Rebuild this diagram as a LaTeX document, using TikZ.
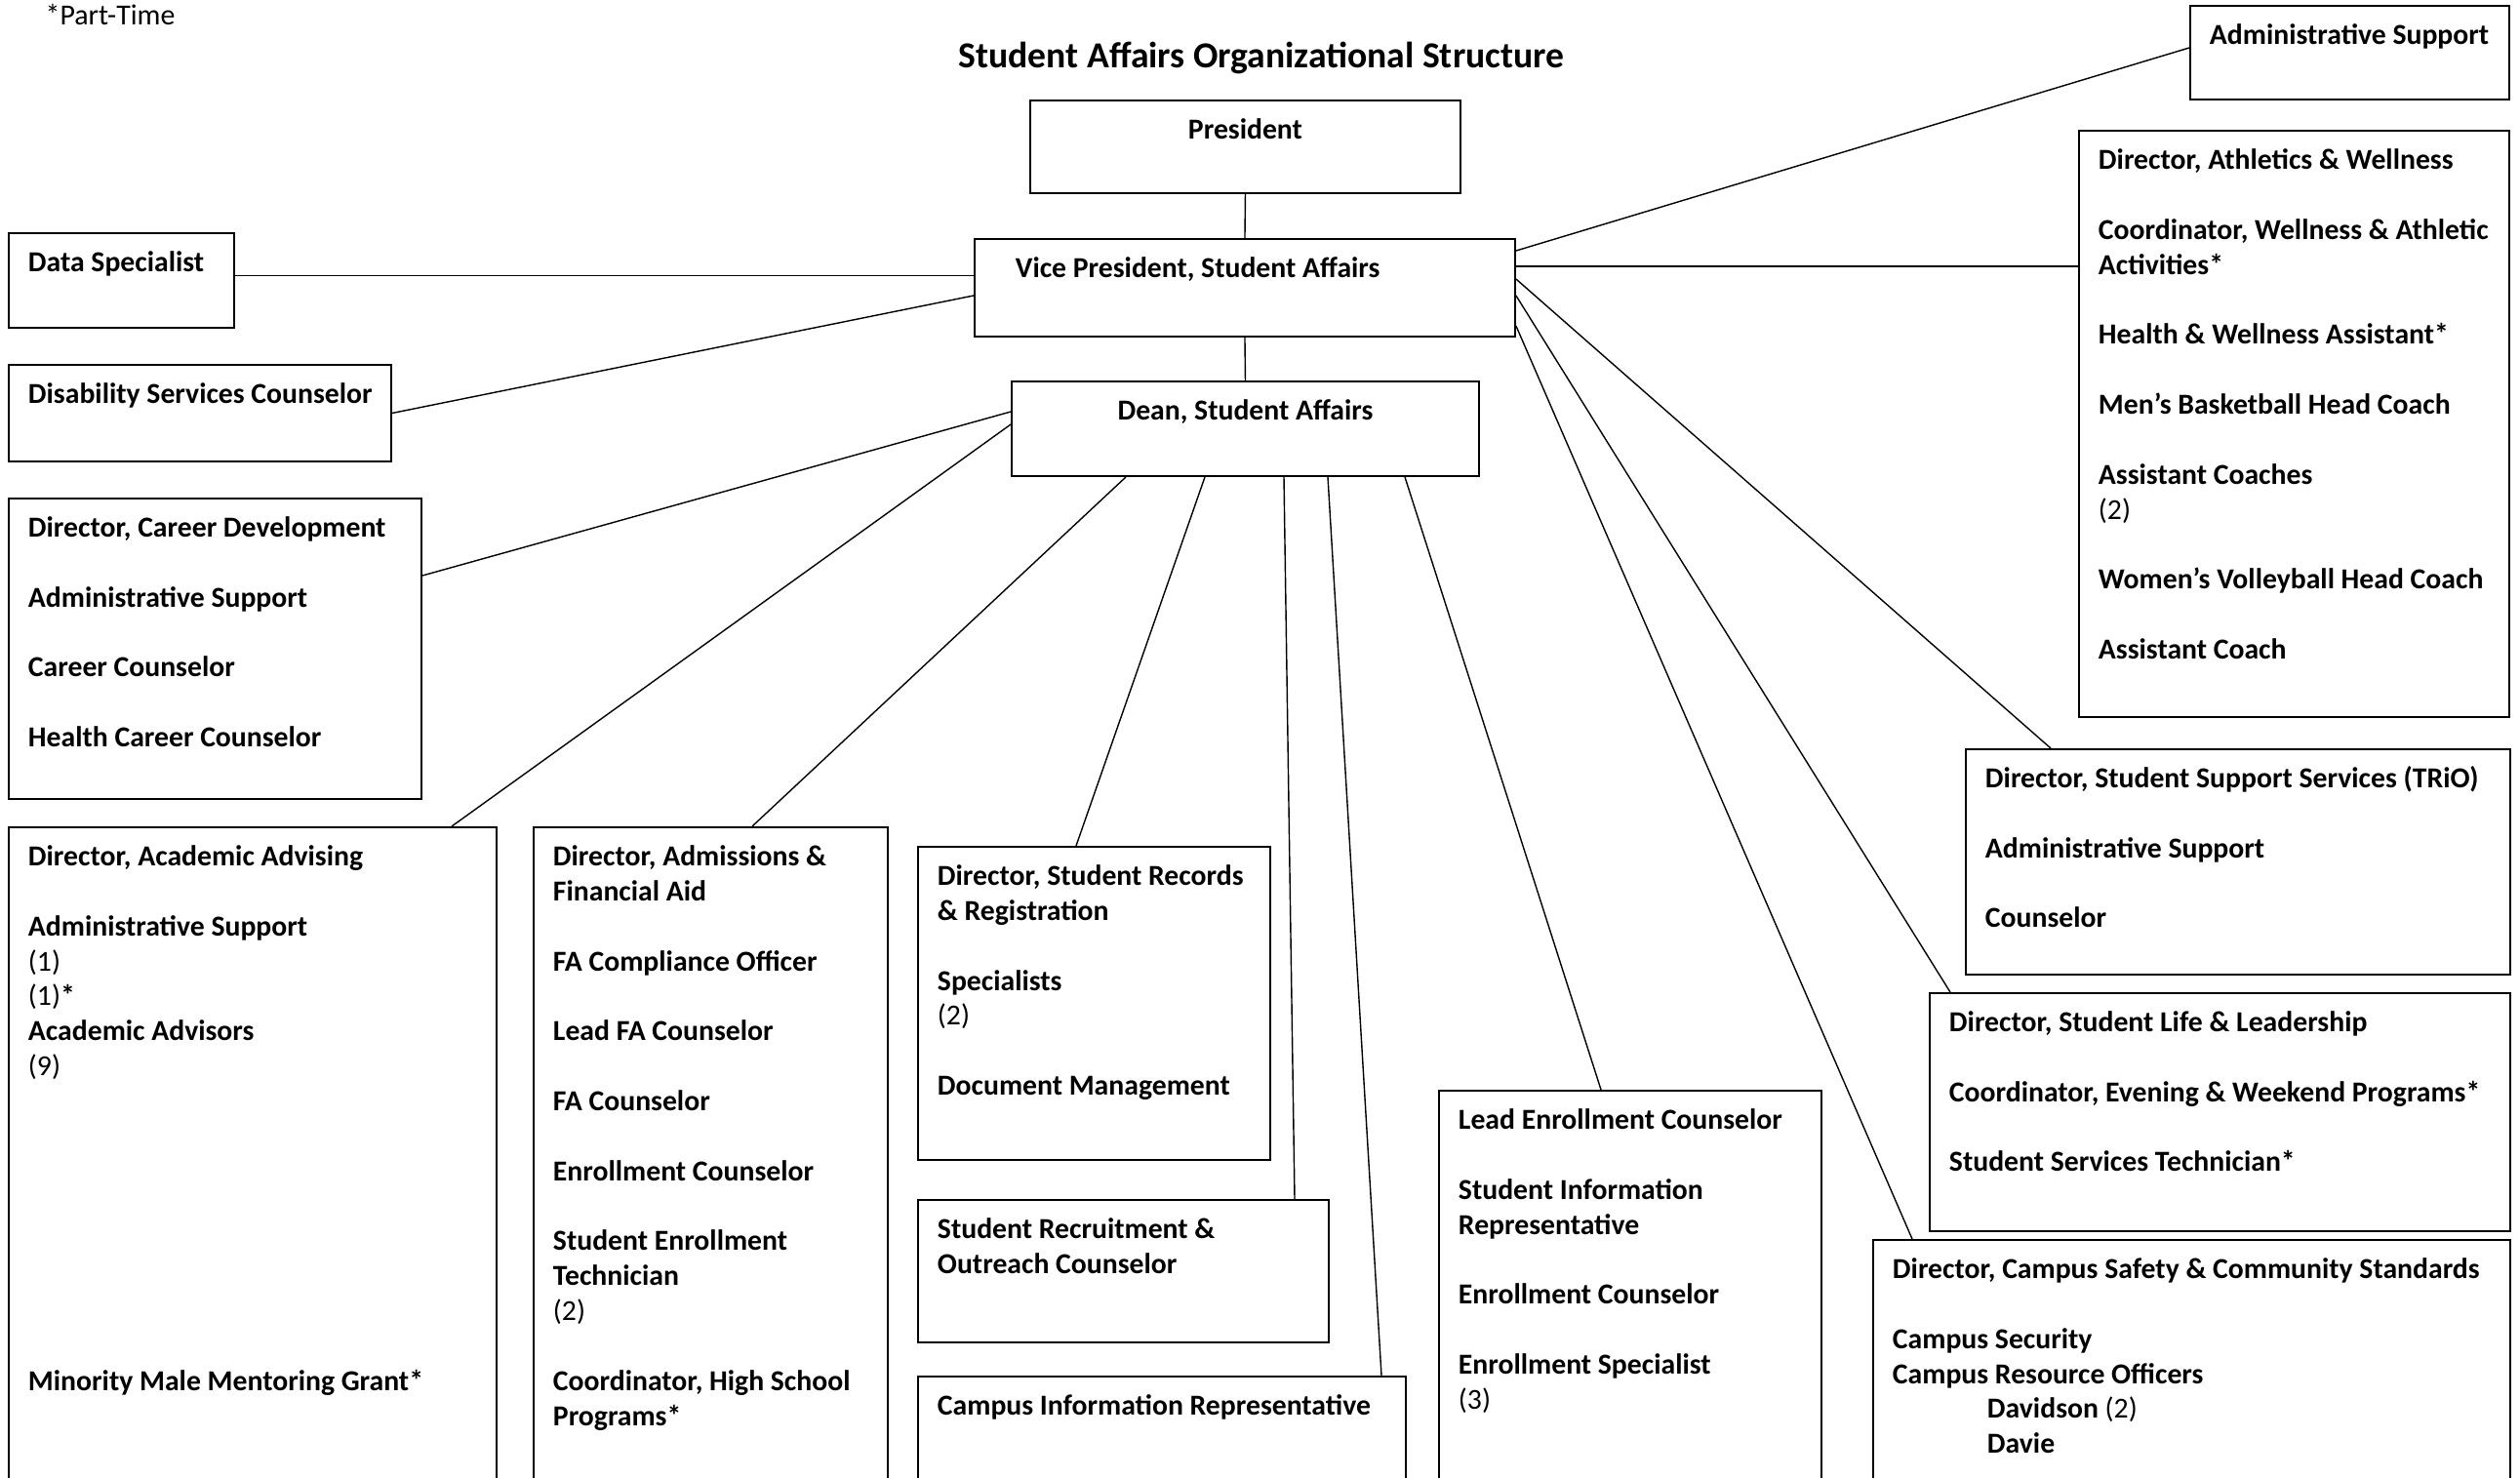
\documentclass[tikz,border=0pt]{standalone}
\usepackage{fontspec}
\setmainfont{Carlito}
\newcommand{\post}[3]{\parbox[t][\dimexpr#2cm-0.29cm\relax][t]{#1cm}{\raggedright\leftskip=0.2cm\strut#3}}
\newcommand{\postgap}{\\[\baselineskip]}
\newcommand{\postno}[1]{{\mdseries#1}}
\tikzstyle{link} = [line width=0.4pt]

\begin{document}
\begin{tikzpicture}
        [
            box/.style={rectangle,draw=black,line width=0.55pt,anchor=north west,inner xsep=0pt,inner ysep=0.145cm,font=\fontsize{8.45}{10.2}\selectfont\bfseries},
        ]
    \useasboundingbox (0,0) rectangle (25.83,-15.14);
    \clip (0,0) rectangle (25.83,-15.14);

    \node[anchor=base west,inner sep=0pt,font=\fontsize{8.5}{10}\selectfont] (note) at (0.46,-0.25) {*Part-Time};
    \node[anchor=base,font=\fontsize{10.7}{12}\selectfont\bfseries] (title) at (12.93,-0.69) {Student Affairs Organizational Structure};

    \node[box] (pres) at (10.55,-1.02) {\post{4.41}{0.95}{\centering President}};
    \node[box] (vp) at (9.98,-2.44) {\post{5.54}{1.00}{\hspace*{0.22cm}Vice President, Student Affairs}};
    \node[box] (dean) at (10.36,-3.90) {\post{4.79}{0.97}{\centering Dean, Student Affairs}};

    \node[box] (data) at (0.08,-2.38) {\post{2.31}{0.97}{Data Specialist}};
    \node[box] (disab) at (0.08,-3.73) {\post{3.92}{0.99}{Disability Services Counselor}};
    \node[box] (career) at (0.08,-5.10) {\post{4.23}{3.08}{Director, Career Development \postgap Administrative Support \postgap Career Counselor \postgap Health Career Counselor}};
    \node[box] (advising) at (0.08,-8.47) {\post{5.00}{7.00}{Director, Academic Advising \postgap Administrative Support \\ \postno{(1)} \\ \postno{(1)}* \\ Academic Advisors \\ \postno{(9)} \\[8\baselineskip] Minority Male Mentoring Grant*}};
    \node[box] (admiss) at (5.46,-8.47) {\post{3.63}{7.00}{Director, Admissions \& \\ Financial Aid \postgap FA Compliance Officer \postgap Lead FA Counselor \postgap FA Counselor \postgap Enrollment Counselor \postgap Student Enrollment \\ Technician \\ \postno{(2)} \postgap Coordinator, High School \\ Programs*}};
    \node[box] (records) at (9.40,-8.67) {\post{3.61}{3.21}{Director, Student Records \\ \& Registration \postgap Specialists \\ \postno{(2)} \postgap Document Management}};
    \node[box] (recruit) at (9.40,-12.29) {\post{4.21}{1.46}{Student Recruitment \& \\ Outreach Counselor}};
    \node[box] (info) at (9.40,-14.10) {\post{5.00}{1.50}{Campus Information Representative}};
    \node[box] (lead) at (14.74,-11.17) {\post{3.92}{4.50}{Lead Enrollment Counselor \postgap Student Information \\ Representative \postgap Enrollment Counselor \postgap Enrollment Specialist \\ \postno{(3)}}};

    \node[box] (admin) at (22.44,-0.05) {\post{3.27}{0.96}{Administrative Support}};
    \node[box] (athl) at (21.30,-1.33) {\post{4.41}{6.01}{Director, Athletics \& Wellness \postgap Coordinator, Wellness \& Athletic \\ Activities* \postgap Health \& Wellness Assistant* \postgap Men’s Basketball Head Coach \postgap Assistant Coaches \\ \postno{(2)} \postgap Women’s Volleyball Head Coach \postgap Assistant Coach}};
    \node[box] (trio) at (20.14,-7.67) {\post{5.58}{2.31}{Director, Student Support Services (TRiO) \postgap Administrative Support \postgap Counselor}};
    \node[box] (life) at (19.77,-10.17) {\post{5.95}{2.44}{Director, Student Life \& Leadership \postgap Coordinator, Evening \& Weekend Programs* \postgap Student Services Technician*}};
    \node[box] (safety) at (19.19,-12.70) {\post{6.53}{3.00}{Director, Campus Safety \& Community Standards \postgap Campus Security \\ Campus Resource Officers \\ \hspace*{0.97cm}Davidson \postno{(2)} \\ \hspace*{0.97cm}Davie}};

    \draw[link] (pres.south) -- (vp.north);
    \draw[link] (vp.south) -- (dean.north);
    \coordinate (dsj) at ([yshift=0.05cm]data.east);
    \draw[link] (dsj) -- (dsj -| vp.west);
    \draw[link] (disab.east) -- ([yshift=-0.08cm]vp.west);
    \draw[link] ([yshift=-0.13cm]vp.north east) -- ([yshift=0.05cm]admin.west);
    \coordinate (vpa) at ([yshift=-0.29cm]vp.north east);
    \draw[link] (vpa) -- (vpa -| athl.west);
    \draw[link] ([yshift=-0.42cm]vp.north east) -- ([xshift=0.88cm]trio.north west);
    \draw[link] ([yshift=-0.59cm]vp.north east) -- ([xshift=0.22cm]life.north west);
    \draw[link] ([yshift=-0.90cm]vp.north east) -- ([xshift=0.41cm]safety.north west);
    \draw[link] ([yshift=-0.32cm]dean.north west) -- ([yshift=-0.80cm]career.north east);
    \draw[link] ([yshift=-0.45cm]dean.north west) -- ([xshift=4.55cm]advising.north west);
    \draw[link] ([xshift=1.18cm]dean.south west) -- ([xshift=2.25cm]admiss.north west);
    \draw[link] ([xshift=1.99cm]dean.south west) -- ([xshift=1.63cm]records.north west);
    \draw[link] ([xshift=2.80cm]dean.south west) -- ([xshift=3.87cm]recruit.north west);
    \draw[link] ([xshift=3.25cm]dean.south west) -- ([xshift=4.76cm]info.north west);
    \draw[link] ([xshift=4.04cm]dean.south west) -- ([xshift=1.67cm]lead.north west);
\end{tikzpicture}
\end{document}
